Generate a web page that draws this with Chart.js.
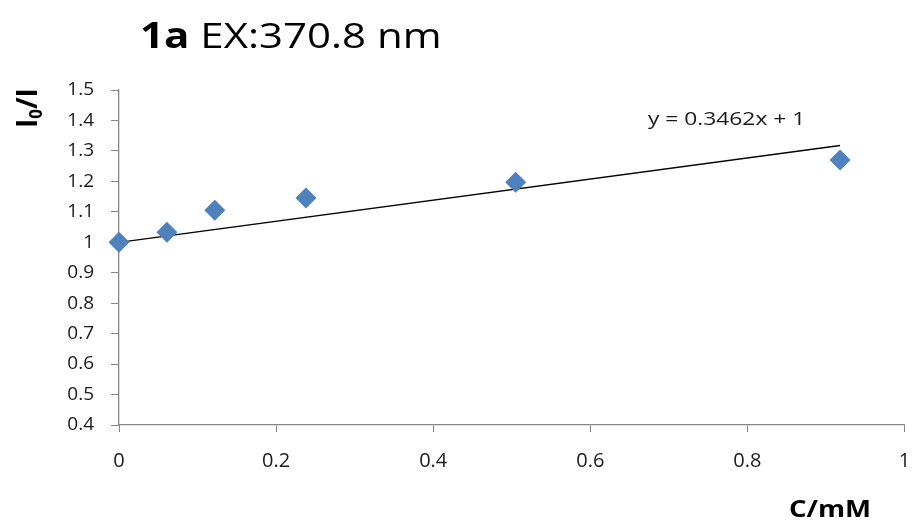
<!DOCTYPE html>
<html>
<head>
<meta charset="utf-8">
<script src="https://cdn.jsdelivr.net/npm/chart.js@4.4.1/dist/chart.umd.min.js"></script>
<style>
  html, body { margin: 0; padding: 0; background: #fff; }
  #wrap { width: 915px; height: 527px; position: relative; }
</style>
</head>
<body>
<div id="wrap"><canvas id="c" width="915" height="527"></canvas></div>
<script>
// ---- Data ----
const concentrations = [0, 0.061, 0.122, 0.238, 0.505, 0.918];   // C/mM
const ratios = [1.0, 1.033, 1.105, 1.145, 1.197, 1.27];           // I0/I
const slope = 0.3462;
const intercept = 1;
const xTicks = [0, 0.2, 0.4, 0.6, 0.8, 1];
const yTicks = [0.4, 0.5, 0.6, 0.7, 0.8, 0.9, 1, 1.1, 1.2, 1.3, 1.4, 1.5];
const titleBold = "1a";
const titleRest = " EX:370.8 nm";
const equationText = "y = 0.3462x + 1";
const xLabel = "C/mM";

const pointData = concentrations.map((c, i) => ({ x: c, y: ratios[i] }));
const xMaxData = concentrations[concentrations.length - 1];
const trendData = [
  { x: 0, y: intercept + slope * 0 },
  { x: xMaxData, y: intercept + slope * xMaxData }
];

const FONT = "'Open Sans', 'Liberation Sans', sans-serif";
const AXIS_COLOR = '#868686';
const TEXT_COLOR = '#1a1a1a';
const STRETCH = 1.2;

const decorations = {
  id: 'decorations',
  afterDraw(chart) {
    const ctx = chart.ctx;
    const xs = chart.scales.x, ys = chart.scales.y;

    // Title (horizontally stretched like the reference)
    ctx.save();
    ctx.fillStyle = '#000';
    ctx.textBaseline = 'alphabetic';
    ctx.textAlign = 'left';
    ctx.translate(140, 48);
    ctx.scale(STRETCH, 1);
    ctx.font = "bold 35px " + FONT;
    ctx.fillText(titleBold, 0, 0);
    const w = ctx.measureText(titleBold).width;
    ctx.font = "35px " + FONT;
    ctx.fillText(titleRest, w, 0);
    ctx.restore();

    // Equation label
    ctx.save();
    ctx.translate(xs.getPixelForValue(0.7735), ys.getPixelForValue(1.404));
    ctx.scale(STRETCH, 1);
    ctx.font = "19px " + FONT;
    ctx.textAlign = 'center';
    ctx.textBaseline = 'middle';
    ctx.fillStyle = TEXT_COLOR;
    ctx.fillText(equationText, 0, 0);
    ctx.restore();

    // X axis title
    ctx.save();
    ctx.translate(871, 517);
    ctx.scale(STRETCH, 1);
    ctx.fillStyle = '#000';
    ctx.font = "bold 23px " + FONT;
    ctx.textAlign = 'right';
    ctx.textBaseline = 'alphabetic';
    ctx.fillText(xLabel, 0, 0);
    ctx.restore();

    // Y axis title: I0/I rotated
    ctx.save();
    ctx.fillStyle = '#000';
    ctx.translate(37, 128);
    ctx.rotate(-Math.PI / 2);
    ctx.textAlign = 'left';
    ctx.textBaseline = 'alphabetic';
    ctx.font = "bold 28px " + FONT;
    ctx.fillText("I", 0, 0);
    let off = ctx.measureText("I").width;
    ctx.font = "bold 17px " + FONT;
    ctx.fillText("0", off, 5);
    off += ctx.measureText("0").width;
    ctx.font = "bold 28px " + FONT;
    ctx.fillText("/I", off, 0);
    ctx.restore();
  }
};

new Chart(document.getElementById('c'), {
  type: 'scatter',
  data: {
    datasets: [
      {
        label: 'trend',
        type: 'line',
        data: trendData,
        borderColor: '#000',
        borderWidth: 1.3,
        pointRadius: 0,
        fill: false,
        order: 2
      },
      {
        label: 'I0/I',
        data: pointData,
        pointStyle: 'rectRot',
        pointRadius: 10.5,
        pointHoverRadius: 10.5,
        backgroundColor: '#4F81BD',
        borderColor: '#4F81BD',
        borderWidth: 0,
        order: 1
      }
    ]
  },
  options: {
    responsive: false,
    animation: false,
    events: [],
    clip: false,
    layout: { padding: { left: 0, right: 10, top: 90, bottom: 0 } },
    plugins: { legend: { display: false }, tooltip: { enabled: false }, title: { display: false } },
    scales: {
      x: {
        type: 'linear',
        min: 0, max: 1,
        afterBuildTicks(s) { s.ticks = xTicks.map(v => ({ value: v })); },
        afterFit(s) { s.height = 102; s.paddingLeft = 0; s.paddingRight = 0; },
        grid: { display: true, drawOnChartArea: false, drawTicks: true, tickLength: 7, color: AXIS_COLOR },
        border: { display: true, color: AXIS_COLOR, width: 1.3 },
        ticks: { color: TEXT_COLOR, font: { family: FONT, size: 20 }, padding: 17, maxRotation: 0,
                 callback: v => String(v) }
      },
      y: {
        type: 'linear',
        min: 0.4, max: 1.5,
        afterBuildTicks(s) { s.ticks = yTicks.map(v => ({ value: v })); },
        afterFit(s) { s.width = 119; s.paddingTop = 0; s.paddingBottom = 0; },
        grid: { display: true, drawOnChartArea: false, drawTicks: true, tickLength: 8, color: AXIS_COLOR },
        border: { display: true, color: AXIS_COLOR, width: 1.3 },
        ticks: { color: TEXT_COLOR, font: { family: FONT, size: 19 }, padding: 17,
                 callback: v => String(Math.round(v * 10) / 10) }
      }
    }
  },
  plugins: [decorations]
});
</script>
</body>
</html>
